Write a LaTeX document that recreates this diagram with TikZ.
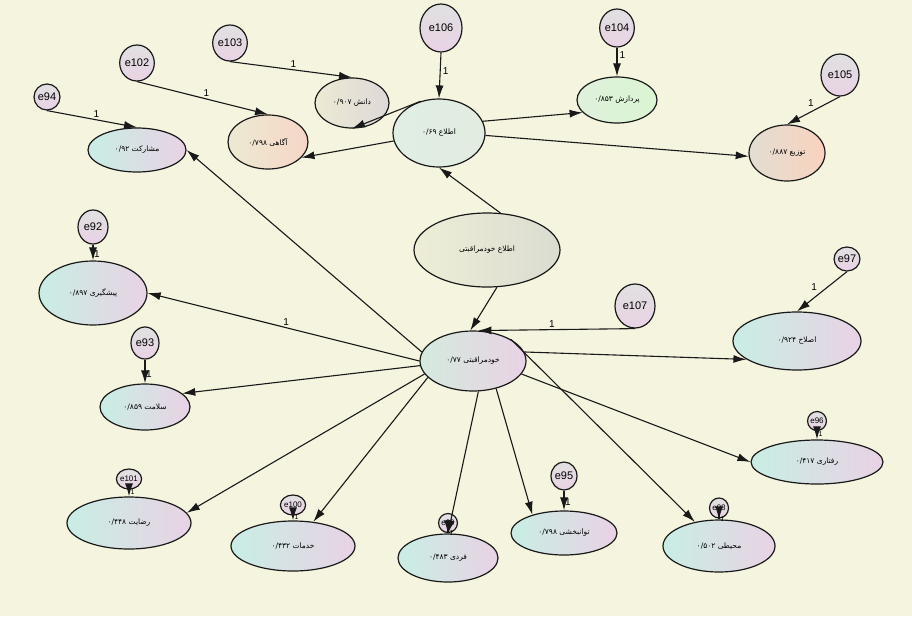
\documentclass[tikz,border=0pt]{standalone}
\usepackage{fontspec}
\setmainfont{Liberation Sans}
\newfontfamily\fa[Script=Arabic]{DejaVu Sans}
\TeXXeTstate=1
\usetikzlibrary{shapes.geometric,arrows.meta}
\definecolor{bg}{RGB}{244,244,223}
\definecolor{cy}{RGB}{200,238,228}
\definecolor{pk}{RGB}{233,210,228}
\definecolor{ink}{RGB}{25,25,25}
\newcommand{\fatxt}[1]{{\fa\fontsize{7.5}{9}\selectfont\beginR #1\endR}}
\tikzset{
  sz/.style 2 args={minimum width=#1pt, minimum height=#2pt},
  latent/.style={ellipse, draw=ink, line width=1.2pt, inner sep=0pt, left color=cy, right color=pk},
  errv/.style={ellipse, draw=ink, line width=1.2pt, inner sep=0pt, top color=black!12, bottom color=pk,
    font=\fontsize{11}{12}\selectfont},
  tiny err/.style={errv, font=\fontsize{8}{9}\selectfont},
  path/.style={draw=ink, line width=1.1pt, -{Latex[length=13pt,width=8pt]}},
  one/.style={font=\fontsize{10}{11}\selectfont, inner sep=2pt},
}
\begin{document}
\begin{tikzpicture}[x=1pt, y=-1pt]
\useasboundingbox[fill=bg] (0,0) rectangle (912,616);

\node[latent, sz={98}{44}] (moshar) at (137,150) {\fatxt{مشارکت ۰/۹۲}};
\node[latent, sz={80}{54}, left color={rgb,255:red,236;green,234;blue,210}, right color={rgb,255:red,246;green,214;blue,198}] (agahi) at (268,142) {\fatxt{آگاهی ۰/۷۹۸}};
\node[latent, sz={74}{50}, left color={rgb,255:red,236;green,234;blue,212}, right color={rgb,255:red,222;green,216;blue,216}] (danesh) at (352,103) {\fatxt{دانش ۰/۹۰۷}};
\node[latent, sz={92}{68}, left color={rgb,255:red,224;green,238;blue,228}, right color={rgb,255:red,226;green,236;blue,224}] (ettela) at (439,133) {\fatxt{اطلاع ۰/۶۹}};
\node[latent, sz={80}{46}, left color={rgb,255:red,224;green,240;blue,220}, right color={rgb,255:red,218;green,246;blue,210}] (pardazesh) at (617,100) {\fatxt{پردازش ۰/۸۵۳}};
\node[latent, sz={76}{56}, left color={rgb,255:red,226;green,222;blue,210}, right color={rgb,255:red,249;green,210;blue,190}] (tozi) at (787,153) {\fatxt{توزیع ۰/۸۸۷}};
\node[latent, sz={146}{74}, left color={rgb,255:red,238;green,238;blue,215}, right color={rgb,255:red,218;green,220;blue,208}] (ettkhod) at (487,250) {\fatxt{اطلاع خودمراقبتی}};
\node[latent, sz={106}{60}, left color={rgb,255:red,212;green,234;blue,222}] (khod) at (473,361) {\fatxt{خودمراقبتی ۰/۷۷}};
\node[latent, sz={128}{58}] (eslah) at (797,341) {\fatxt{اصلاح ۰/۹۲۴}};
\node[latent, sz={108}{64}] (pish) at (93,293) {\fatxt{پیشگیری ۰/۸۹۷}};
\node[latent, sz={90}{46}] (salamat) at (145,407) {\fatxt{سلامت ۰/۸۵۹}};
\node[latent, sz={124}{52}] (rezayat) at (129,523) {\fatxt{رضایت ۰/۴۴۸}};
\node[latent, sz={124}{50}] (khadamat) at (293,546) {\fatxt{خدمات ۰/۴۳۲}};
\node[latent, sz={100}{48}] (fardi) at (448,558) {\fatxt{فردی ۰/۴۸۳}};
\node[latent, sz={106}{44}] (tavan) at (564,533) {\fatxt{توانبخشی ۰/۷۹۸}};
\node[latent, sz={112}{52}] (mohiti) at (719,546) {\fatxt{محیطی ۰/۵۰۲}};
\node[latent, sz={132}{44}] (raftari) at (817,462) {\fatxt{رفتاری ۰/۴۱۷}};

\node[errv, sz={26}{26}] (e94) at (47,97) {e94};
\node[errv, sz={34}{36}] (e102) at (137,63) {e102};
\node[errv, sz={34}{36}] (e103) at (230,43) {e103};
\node[errv, sz={42}{48}] (e106) at (441,28) {e106};
\node[errv, sz={30}{38}] (e104) at (617,28) {e104};
\node[errv, sz={38}{42}] (e105) at (840,75) {e105};
\node[errv, sz={30}{34}] (e92) at (93,227) {e92};
\node[errv, sz={28}{32}] (e93) at (145,343) {e93};
\node[errv, sz={40}{44}] (e107) at (635,306) {e107};
\node[errv, sz={22}{24}] (e97) at (847,259) {e97};
\node[errv, sz={25}{28}] (e95) at (564,476) {e95};
\node[tiny err, sz={19}{20}] (e101) at (129,479) {e101};
\node[tiny err, sz={19}{20}] (e100) at (293,505) {e100};
\node[tiny err, sz={18}{19}] (e99) at (448,523) {e99};
\node[tiny err, sz={19}{20}] (e98) at (719,508) {e98};
\node[tiny err, sz={18}{19}] (e96) at (817,421) {e96};

\draw[path] (e94.south) -- node[one, above, pos=0.55] {1} (moshar.north);
\draw[path] (e102.south) -- node[one, above, pos=0.53] {1} (agahi.north);
\draw[path] (e103.south) -- node[one, above, pos=0.52] {1} (danesh.north);
\draw[path] (e106.south) -- node[one, right, pos=0.4] {1} (ettela.north);
\draw[path] (e104.south) -- node[one, right, pos=0.25] {1} (pardazesh.north);
\draw[path] (e105.south) -- node[one, above left, pos=0.45] {1} (tozi.north);
\draw[path] (e92.south) -- node[one, right, pos=0.6, inner sep=0.5pt] {1} (pish.north);
\draw[path] (e93.south) -- node[one, right, pos=0.6, inner sep=0.5pt] {1} (salamat.north);
\draw[path] (e107.south) -- node[one, above, pos=0.53] {1} (khod.80);
\draw[path] (e97.south) -- node[one, above left, pos=0.55] {1} (eslah.north);
\draw[path] (e95.south) -- node[one, right, pos=0.6, inner sep=0.5pt] {1} (tavan.north);
\foreach \e/\v in {e101/rezayat, e100/khadamat, e99/fardi, e98/mohiti, e96/raftari}
  \draw[path] (\e.south) -- node[font=\fontsize{7}{8}\selectfont, right, inner sep=1pt, pos=0.3] {1} (\v.north);

\draw[path] (ettela.120) -- (danesh.south);
\draw[path] (ettela.190) -- (agahi.-25);
\draw[path] (ettela.15) -- (pardazesh.200);
\draw[path] (ettela.-3) -- (tozi.185);
\draw[path] (ettkhod.70) -- (ettela.south);
\draw[path] (ettkhod.-75) -- (khod.95);

\draw[path] (khod.170) -- (moshar.east);
\draw[path] (khod.west) -- node[one, above, pos=0.49] {1} (pish.east);
\draw[path] (khod.185) -- (salamat.20);
\draw[path] (khod.195) -- (rezayat.10);
\draw[path] (khod.200) -- (khadamat.50);
\draw[path] (khod.-80) -- (fardi.north);
\draw[path] (khod.-50) -- (tavan.150);
\draw[path] (khod.north east) -- (mohiti.135);
\draw[path] (khod.-15) -- (raftari.west);
\draw[path] (khod.10) -- (eslah.200);

\end{tikzpicture}
\end{document}
